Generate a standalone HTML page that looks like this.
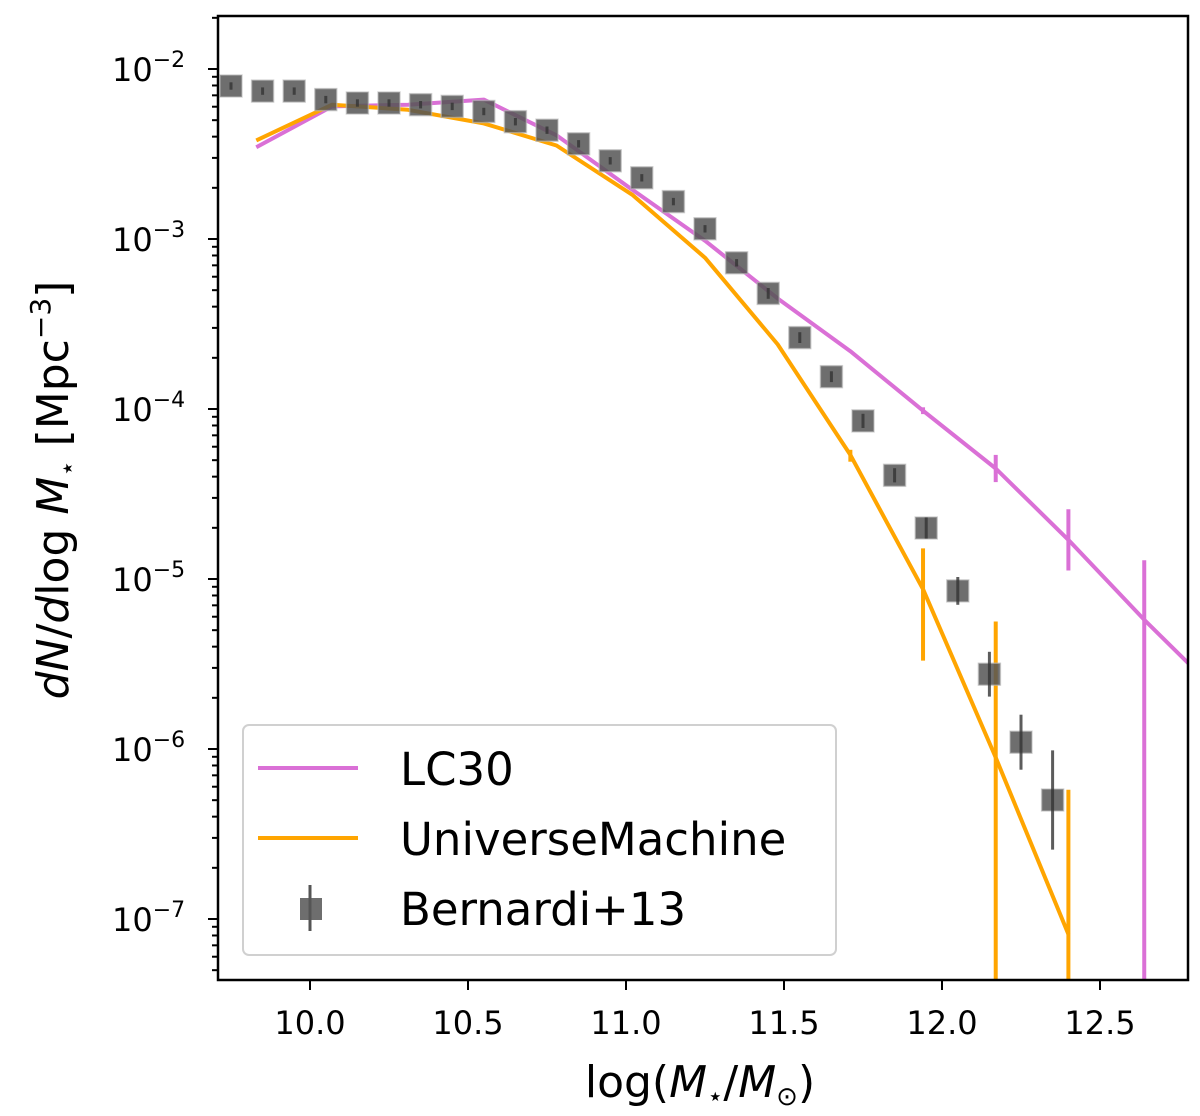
<!DOCTYPE html>
<html><head><meta charset="utf-8"><style>
html,body{margin:0;background:#fff;overflow:hidden;width:1200px;height:1116px;}
svg{display:block;font-family:"DejaVu Sans","Liberation Sans",sans-serif;}
</style></head><body>
<svg id="chart" width="1200" height="1116" viewBox="0 0 1200 1116" xmlns="http://www.w3.org/2000/svg">
<defs><clipPath id="clip"><rect x="218" y="16" width="970" height="964"/></clipPath></defs>
<g id="plot" clip-path="url(#clip)"></g>
<rect x="218" y="16" width="970" height="964" fill="none" stroke="#000" stroke-width="2.5"/>
<g id="axes"></g>
<text x="700" y="1097" font-size="44" text-anchor="middle">log(<tspan font-style="italic">M</tspan><tspan font-size="26" dy="8">⋆</tspan><tspan dy="-8">/</tspan><tspan font-style="italic">M</tspan><tspan font-size="26" dy="8">⊙</tspan><tspan dy="-8">)</tspan></text>
<text transform="translate(68,490) rotate(-90)" font-size="44" text-anchor="middle"><tspan font-style="italic">dN</tspan>/<tspan font-style="italic">d</tspan>log<tspan font-style="italic"> M</tspan><tspan font-size="26" dy="8">⋆</tspan><tspan dy="-8">  [Mpc</tspan><tspan font-size="28" dy="-18">−3</tspan><tspan dy="18">]</tspan></text>
<g>
<rect x="243" y="725" width="593" height="230" rx="6" fill="#fff" stroke="#d0d0d0" stroke-width="2"/>
<line x1="258" y1="768" x2="358" y2="768" stroke="#da70d6" stroke-width="4"/>
<text x="400" y="785" font-size="45">LC30</text>
<line x1="258" y1="838" x2="358" y2="838" stroke="#ffa500" stroke-width="4"/>
<text x="400" y="855" font-size="45">UniverseMachine</text>
<rect x="300" y="898" width="22" height="22" fill="#555" fill-opacity="0.85"/>
<line x1="310" y1="885" x2="310" y2="931" stroke="#555" stroke-width="3"/>
<text x="400" y="925" font-size="45">Bernardi+13</text>
</g>
</svg>
<script>
const bernX=[9.75,9.85,9.95,10.05,10.15,10.25,10.35,10.45,10.55,10.65,10.75,10.85,10.95,11.05,11.15,11.25,11.35,11.45,11.55,11.65,11.75,11.85,11.95,12.05,12.15,12.25,12.35];
const bernY=[-2.10,-2.13,-2.13,-2.18,-2.20,-2.20,-2.21,-2.22,-2.25,-2.31,-2.36,-2.44,-2.54,-2.64,-2.78,-2.94,-3.14,-3.32,-3.58,-3.81,-4.07,-4.39,-4.70,-5.07,-5.56,-5.96,-6.30];
const bernErr=[0.01,0.01,0.01,0.01,0.01,0.01,0.01,0.01,0.01,0.01,0.01,0.01,0.01,0.01,0.01,0.01,0.01,0.02,0.02,0.02,0.03,0.03,0.05,0.07,0.12,0.15,0.28];
const simX=[9.83,10.07,10.31,10.55,10.78,11.02,11.25,11.48,11.71,11.94,12.17,12.40,12.64,12.88];
const lcY=[-2.46,-2.22,-2.21,-2.18,-2.39,-2.71,-3.01,-3.35,-3.66,-4.01,-4.35,-4.77,-5.24,-5.68];
const lcErrLo=[0,0,0,0,0,0,0,0,0,0.02,0.08,0.18,3,0];
const lcErrHi=[0,0,0,0,0,0,0,0,0,0.02,0.08,0.18,0.35,0];
const umX=[9.83,10.07,10.31,10.55,10.78,11.02,11.25,11.48,11.71,11.94,12.17,12.40];
const umY=[-2.42,-2.21,-2.24,-2.32,-2.45,-2.74,-3.11,-3.62,-4.27,-5.06,-6.05,-7.09];
const umErrLo=[0,0,0,0,0,0,0,0,0.04,0.42,3,3];
const umErrHi=[0,0,0,0,0,0,0,0,0.03,0.24,0.8,0.85];
const xTicks=[10.0,10.5,11.0,11.5,12.0,12.5];
const xTickLabels=["10.0","10.5","11.0","11.5","12.0","12.5"];
const yDecades=[-7,-6,-5,-4,-3,-2];

const NS="http://www.w3.org/2000/svg";
const sx=v=>310+(v-10)*316;
const sy=v=>69+(-2-v)*170;
function mk(tag,attrs,parent){const e=document.createElementNS(NS,tag);for(const k in attrs)e.setAttribute(k,attrs[k]);parent.appendChild(e);return e;}
const plot=document.getElementById('plot'), axes=document.getElementById('axes');

function series(xs,ys,lo,hi,color,name){
  const pl=mk('polyline',{points:xs.map((x,i)=>sx(x)+','+sy(ys[i])).join(' '),fill:'none',stroke:color,'stroke-width':4,'stroke-linejoin':'round'},plot);
  
  
  xs.forEach((x,i)=>{ if(lo[i]>0||hi[i]>0){
    const l=mk('line',{x1:sx(x),x2:sx(x),y1:sy(ys[i]+hi[i]),y2:sy(ys[i]-lo[i]),stroke:color,'stroke-width':4},plot);
    
    
  }});
}
series(simX,lcY,lcErrLo,lcErrHi,'#da70d6','lc30');
series(umX,umY,umErrLo,umErrHi,'#ffa500','um');

bernX.forEach((x,i)=>{
  const r=mk('rect',{x:sx(x)-11,y:sy(bernY[i])-11,width:22,height:22,fill:'#555','fill-opacity':0.85,stroke:'#bbb','stroke-opacity':0.6,'stroke-width':1.5},plot);
  
  
  const l=mk('line',{x1:sx(x),x2:sx(x),y1:sy(bernY[i]+bernErr[i])-2,y2:sy(bernY[i]-bernErr[i])+2,stroke:'#333','stroke-width':3,'stroke-opacity':0.8},plot);
  
  
});

xTicks.forEach((t,i)=>{
  const l=mk('line',{x1:sx(t),x2:sx(t),y1:980,y2:990,stroke:'#000','stroke-width':2},axes);
  
  
  const tx=mk('text',{x:sx(t),y:1034,'font-size':32,'text-anchor':'middle'},axes);
  tx.textContent=xTickLabels[i];
  
  
});
const yMin=-7.365,yMax=-1.688;
for(let d=-8;d<=-1;d++){
  for(let m=1;m<10;m++){
    const v=d+Math.log10(m);
    if(v<yMin||v>yMax)continue;
    const len=m===1?10:6;
    const l=mk('line',{x1:218-len,x2:218,y1:sy(v),y2:sy(v),stroke:'#000','stroke-width':2},axes);
    
    
  }
}
yDecades.forEach(d=>{
  const tx=mk('text',{x:112,y:sy(d)+12,'font-size':32},axes);
  tx.textContent='10';
  const s=mk('tspan',{'font-size':22,dy:-14},tx);
  s.textContent='−'+Math.abs(d);
  
  
});
</script>
</body></html>
